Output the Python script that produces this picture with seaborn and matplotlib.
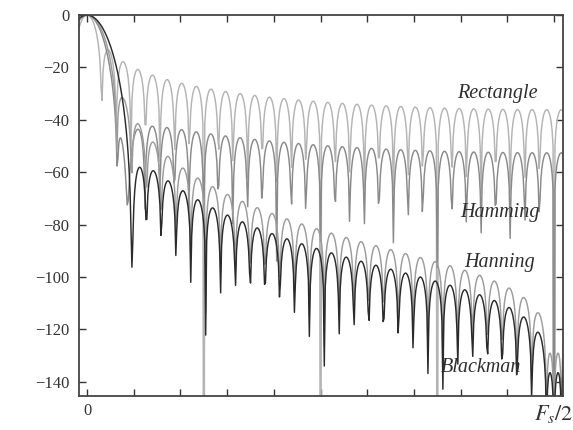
import numpy as np
import pandas as pd
import matplotlib
matplotlib.use("Agg")
import matplotlib.pyplot as plt
import seaborn as sns

# Window length and generalized cosine-sum coefficients a_k:
# w[n] = sum_k (-1)^k a_k cos(2 pi k n / (N - 1))
WINDOW_LENGTH = 64
rectangle_coeffs = [1.0]
hamming_coeffs = [0.54, 0.46]
hanning_coeffs = [0.5, 0.5]
blackman_coeffs = [0.42, 0.5, 0.08]

window_names = ["Rectangle", "Hamming", "Hanning", "Blackman"]
window_coeffs = [rectangle_coeffs, hamming_coeffs, hanning_coeffs, blackman_coeffs]
line_colors = ["#b4b4b4", "#8a8a8a", "#9c9c9c", "#2b2b2b"]

y_ticks = [0, -20, -40, -60, -80, -100, -120, -140]
x_ticks = [0.0, 0.05, 0.10, 0.15, 0.20, 0.25, 0.30, 0.35, 0.40, 0.45, 0.50]
x_tick_labels = ["0", "", "", "", "", "", "", "", "", "", "$F_s/2$"]


def cosine_window(coeffs, n_len):
    n = np.arange(n_len)
    w = np.zeros(n_len)
    for k, a in enumerate(coeffs):
        w += (-1) ** k * a * np.cos(2 * np.pi * k * n / (n_len - 1))
    return w


def magnitude_db(w, freqs):
    n = np.arange(len(w))
    spec = np.abs(np.exp(-2j * np.pi * np.outer(freqs, n)) @ w)
    spec /= np.abs(w.sum())
    return 20 * np.log10(np.maximum(spec, 1e-15))


freqs = np.arange(-9, 512) / 1000.0
frames = []
for name, coeffs in zip(window_names, window_coeffs):
    w = cosine_window(coeffs, WINDOW_LENGTH)
    frames.append(pd.DataFrame({"f": freqs, "dB": magnitude_db(w, freqs), "window": name}))
data = pd.concat(frames, ignore_index=True)

sns.set_style("ticks")
plt.rcParams["font.family"] = ["Liberation Serif", "DejaVu Serif"]
plt.rcParams["mathtext.fontset"] = "stix"

fig = plt.figure(figsize=(5.73, 4.30), dpi=100)
ax = fig.add_axes([0.138, 0.079, 0.8445, 0.886])

for name, color in zip(window_names, line_colors):
    sns.lineplot(data=data[data["window"] == name], x="f", y="dB", color=color,
                 linewidth=1.05, estimator=None, sort=False, ax=ax)

ax.set_xlim(-0.0086, 0.5096)
ax.set_ylim(-145.5, 0)
ax.set_xticks(x_ticks)
ax.set_xticklabels(x_tick_labels)
ax.set_yticks(y_ticks)
ax.set_yticklabels([f"\u2212{abs(v)}" if v else "0" for v in y_ticks])
ax.set_xlabel("")
ax.set_ylabel("")
ax.tick_params(direction="in", top=True, right=True, length=5, width=1.0,
               labelsize=12, colors="#333333")
ax.tick_params(axis="y", pad=7)
ax.tick_params(axis="x", pad=5)
ax.get_xticklabels()[-1].set_fontsize(16)
for s in ax.spines.values():
    s.set_linewidth(1.3)
    s.set_color("#444444")

label_style = dict(fontsize=14.5, style="italic", color="#2e2e2e",
                   ha="center", va="center")
ax.text(0.439, -30.0, "Rectangle", **label_style)
ax.text(0.442, -75.5, "Hamming", **label_style)
ax.text(0.442, -94.5, "Hanning", **label_style)
ax.text(0.422, -134.5, "Blackman", **label_style)

fig.savefig("out.png", dpi=100)
